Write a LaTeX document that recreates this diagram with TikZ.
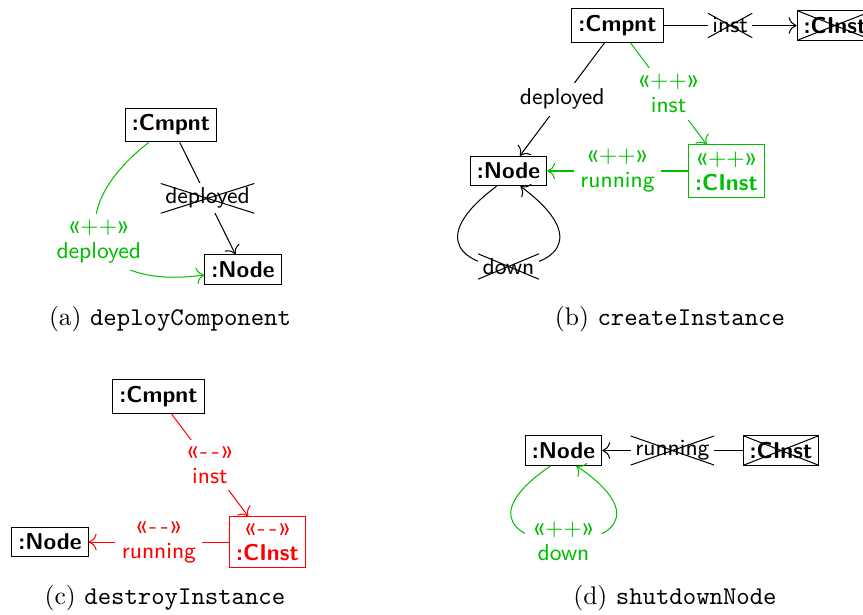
\documentclass[tikz,border=0pt]{standalone}
\usetikzlibrary{arrows.meta}
\definecolor{mygreen}{RGB}{0,191,0}
\definecolor{myred}{RGB}{255,0,0}
\newcommand{\glq}{{\fontsize{10.5}{9.8}\selectfont «}}
\newcommand{\grq}{{\fontsize{10.5}{9.8}\selectfont »}}
\newcommand{\stadd}{\glq$+$$+$\grq}
\newcommand{\stdel}{\glq\kern0.5pt-\kern1.5pt-\kern0.5pt\grq}
\begin{document}
\begin{tikzpicture}[x=0.392pt,y=0.392pt,
  >={To[scale=1.25]},
  font=\fontsize{9}{9.8}\selectfont\sffamily,
  xmark/.style={path picture={\draw[black, -] (path picture bounding box.south west) -- (path picture bounding box.north east) (path picture bounding box.north west) -- (path picture bounding box.south east);}},
  obj/.style={draw, rectangle, inner sep=2.6pt, align=center, font=\fontsize{9}{9.8}\selectfont\sffamily\bfseries},
  delobj/.style={obj, xmark},
  lbl/.style={fill=white, inner sep=2.5pt, align=center, midway},
  dellbl/.style={rectangle, fill=white, inner sep=1.8pt, xmark, midway},
  captext/.style={font=\fontsize{10}{12}\selectfont\rmfamily, anchor=base},
  conn/.style={->}
]
\useasboundingbox (0,0) rectangle (863,-614);

% ---------- (a) deployComponent ----------
\node[obj] (ac) at (171,-125) {:Cmpnt};
\node[obj] (an) at (243,-269.5) {:Node};
\draw[conn] (ac) -- node[dellbl] {deployed} (an);
\draw[conn, mygreen] (ac) to[out=-142, in=188, looseness=2.07]
  node[lbl, pos=0.5] {\stadd\\deployed} (an);
\node[captext] (capa) at (170,-325) {(a) \texttt{deployComponent}};

% ---------- (b) createInstance ----------
\node[obj] (bc) at (617.5,-25.5) {:Cmpnt};
\node[delobj] (bx) at (835,-25.5) {:CInst};
\node[obj] (bn) at (508.5,-171) {:Node};
\node[obj, mygreen] (bi) at (726.5,-171) {{\mdseries\stadd}\\:CInst};
\draw[conn] (bc) -- node[dellbl] {inst} (bx);
\draw[conn] (bc) -- node[lbl] {deployed} (bn);
\draw[conn, mygreen] (bc) -- node[lbl] {\stadd\\inst} (bi);
\draw[conn, mygreen] (bi) -- node[lbl] {\stadd\\running} (bn);
\draw[conn] (bn.-128) .. controls +(-144,-107) and +(144,-107) ..
  node[dellbl, pos=0.5] {down} (bn.-52);
\node[captext] (capb) at (670,-325) {(b) \texttt{createInstance}};

% ---------- (c) destroyInstance ----------
\node[obj] (cc) at (158.5,-396.5) {:Cmpnt};
\node[obj] (cn) at (50,-542) {:Node};
\node[obj, myred] (ci) at (267.5,-542) {{\mdseries\stdel}\\:CInst};
\draw[conn, myred] (cc) -- node[lbl] {\stdel\\inst} (ci);
\draw[conn, myred] (ci) -- node[lbl] {\stdel\\running} (cn);
\node[captext] (capc) at (165,-604) {(c) \texttt{destroyInstance}};

% ---------- (d) shutdownNode ----------
\node[obj] (dn) at (563.5,-450.5) {:Node};
\node[delobj] (dx) at (781,-450.5) {:CInst};
\draw[conn] (dx) -- node[dellbl] {running} (dn);
\draw[conn, mygreen] (dn.-130) .. controls +(-148,-101) and +(148,-101) ..
  node[lbl, pos=0.5] {\stadd\\down} (dn.-50);
\node[captext] (capd) at (675,-604) {(d) \texttt{shutdownNode}};
\end{tikzpicture}
\end{document}
